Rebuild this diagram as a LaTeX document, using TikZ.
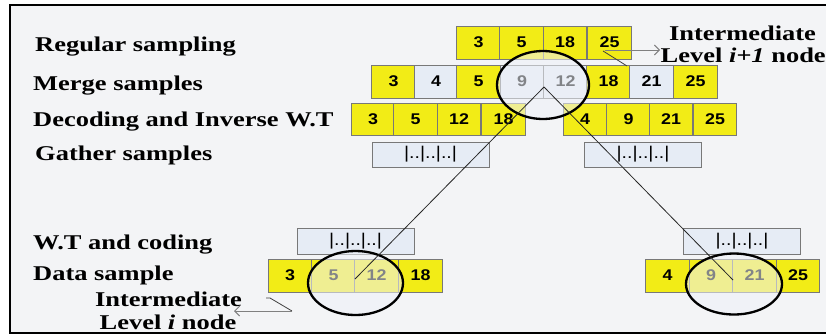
\documentclass[tikz,border=0pt]{standalone}
\usepackage{fontspec}
\usetikzlibrary{shapes.geometric,arrows.meta}
\newfontfamily\lblfont{Liberation Serif}[FakeStretch=1.26]
\newfontfamily\numfont{Liberation Sans}[FakeStretch=1.15]
\definecolor{cyel}{RGB}{242,236,22}
\definecolor{cblue}{RGB}{230,236,245}
\definecolor{cbg}{RGB}{243,244,246}
\definecolor{cgrid}{RGB}{120,120,120}
\definecolor{cring}{RGB}{238,241,248}
\begin{document}
\begin{tikzpicture}[x=1pt,y=-1pt,
  cell/.style={draw=cgrid, line width=0.7pt, minimum width=43.5pt, minimum height=33pt, inner sep=0pt, font=\numfont\bfseries\fontsize{15.5}{17}\selectfont},
  yc/.style={cell, fill=cyel},
  bc/.style={cell, fill=cblue},
  gbox/.style={draw=cgrid, line width=0.7pt, fill=cblue, minimum width=117pt, minimum height=25pt, inner sep=0pt, font=\numfont\fontsize{17}{19}\selectfont},
  lbl/.style={font=\lblfont\bfseries\fontsize{21}{23}\selectfont, inner sep=0pt},
  ring/.style={ellipse, draw=black, line width=2.3pt, fill=cring, fill opacity=0.55, draw opacity=1, inner sep=0pt},
  link/.style={draw=black!85, line width=0.8pt},
  callout/.style={draw=black!75, line width=0.8pt},
  pointer/.style={draw=black!50, line width=0.9pt, -{Straight Barb[length=5pt,width=10pt]}}
]
\useasboundingbox (0,0) rectangle (826,335);
\fill[white] (0,0) rectangle (826,335);
\fill[cbg] (10,5) rectangle (832,333);
\draw[line width=2.5pt] (10,5) rectangle (832,333);

% labels
\node[lbl, anchor=base west] (lreg) at (35,51) {Regular sampling};
\node[lbl, anchor=base west] (lmer) at (33,90.5) {Merge samples};
\node[lbl, anchor=base west] (ldec) at (33,126) {Decoding and Inverse W.T};
\node[lbl, anchor=base west] (lgat) at (35,160) {Gather samples};
\node[lbl, anchor=base west] (lwt) at (33,249.5) {W.T and coding};
\node[lbl, anchor=base west] (ldat) at (33,280) {Data sample};
\node[lbl, anchor=base] (lib1) at (168.5,306) {Intermediate};
\node[lbl, anchor=base] (lib2) at (168,329) {Level \textit{i} node};
\node[lbl, anchor=base] (lit1) at (742.5,40.5) {Intermediate};
\node[lbl, anchor=base west] (lit2) at (660.5,62) {Level \textit{i+1} node};

% row 1
\node[yc] (r1a) at (478.5,42.5) {3};
\node[yc] (r1b) at (521.5,42.5) {5};
\node[yc] (r1c) at (565,42.5) {18};
\node[yc] (r1d) at (609.5,42.5) {25};
% row 2
\node[yc] (r2a) at (393.5,81.5) {3};
\node[bc] (r2b) at (436,81.5) {4};
\node[yc] (r2c) at (478.5,81.5) {5};
\node[bc] (r2d) at (522,81.5) {9};
\node[bc] (r2e) at (565.5,81.5) {12};
\node[yc] (r2f) at (608.5,81.5) {18};
\node[bc] (r2g) at (651.5,81.5) {21};
\node[yc] (r2h) at (695.5,81.5) {25};
% row 3
\node[yc, minimum height=32pt] (r3a) at (373,119) {3};
\node[yc, minimum height=32pt] (r3b) at (415.5,119) {5};
\node[yc, minimum height=32pt] (r3c) at (459,119) {12};
\node[yc, minimum height=32pt] (r3d) at (503.5,119) {18};
\node[yc, minimum height=32pt] (r3e) at (585,119) {4};
\node[yc, minimum height=32pt] (r3f) at (628.5,119) {9};
\node[yc, minimum height=32pt] (r3g) at (671,119) {21};
\node[yc, minimum height=32pt] (r3h) at (715,119) {25};
% gather
\node[gbox] (g1) at (430.5,154.5) {|..|..|..|};
\node[gbox] (g2) at (643,154.5) {|..|..|..|};
% W.T
\node[gbox, minimum height=26pt] (w1) at (355.5,241) {|..|..|..|};
\node[gbox, minimum height=26pt] (w2) at (742,241) {|..|..|..|};
% data
\node[yc] (d1a) at (290,275.5) {3};
\node[yc] (d1b) at (333.5,275.5) {5};
\node[yc] (d1c) at (376.5,275.5) {12};
\node[yc] (d1d) at (420.5,275.5) {18};
\node[yc] (d2a) at (667.5,275.5) {4};
\node[yc] (d2b) at (711,275.5) {9};
\node[yc] (d2c) at (754.5,275.5) {21};
\node[yc] (d2d) at (798,275.5) {25};

% rings
\node[ring, minimum width=92pt, minimum height=68pt] (e1) at (543,85) {};
\node[ring, minimum width=95pt, minimum height=64pt] (e2) at (355.5,283) {};
\node[ring, minimum width=96pt, minimum height=61pt] (e3) at (734,284) {};

% links
\coordinate (apex) at (544,87);
\coordinate (pl) at (355,279);
\coordinate (pr) at (733,280);
\draw[link] (apex) -- (pl);
\draw[link] (apex) -- (pr);

% callouts
\coordinate (ct) at (603,51);
\coordinate (ct2) at (627,66);
\coordinate (ctend) at (660,50);
\draw[callout] (ct) -- (ct2);
\draw[pointer] (605,50) -- (ctend);
\coordinate (cb0) at (266,298);
\coordinate (cb1) at (270,298);
\coordinate (cb2) at (292,311);
\coordinate (cbend) at (234,311);
\draw[callout] (cb0) -- (cb1) -- (cb2);
\draw[pointer] (cb2) -- (cbend);
\end{tikzpicture}
\end{document}
